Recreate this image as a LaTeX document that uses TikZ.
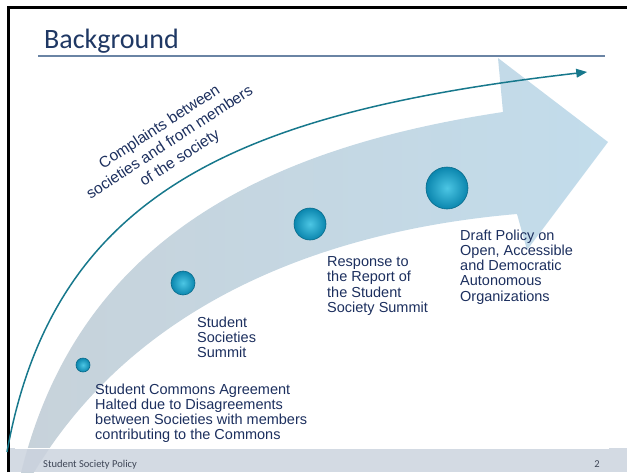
\documentclass[tikz,border=0pt]{standalone}
\usepackage{fontspec}
\setmainfont{Liberation Sans}
\newfontfamily\slidefont{Carlito}
\usetikzlibrary{arrows}

\definecolor{titleblue}{HTML}{1F3864}
\definecolor{textblue}{HTML}{1C2F5E}
\definecolor{ruleblue}{HTML}{6A84A4}
\definecolor{curveteal}{HTML}{17788C}
\definecolor{barblue}{HTML}{CBD3DE}
\definecolor{footgray}{HTML}{3E4656}
\definecolor{arrowgray}{HTML}{C7D2DA}
\definecolor{arrowblue}{HTML}{C2DCEB}
\definecolor{balllight}{HTML}{4CC6E4}
\definecolor{balldark}{HTML}{0B86AE}

\tikzset{
  milestone/.style={circle, inner sep=0pt, shading=radial, inner color=balllight,
    outer color=balldark, draw=balldark!80!black, line width=0.6pt},
  eventtext/.style={anchor=north west, inner sep=0pt, align=left, text=textblue,
    font=\fontsize{14.5}{15.2}\selectfont},
}

\begin{document}
\begin{tikzpicture}[x=1pt,y=-1pt]
    %one unit is one pixel of the slide, y runs downwards
  \useasboundingbox (0,0) rectangle (627,472);
    %the big shaded arrow behind the milestones
  \shade[left color=arrowgray, right color=arrowblue]
    (18,486) .. controls (70,250) and (250,150) .. (503,112) -- (498,58)
    -- (608,142) -- (527,250) -- (517,214)
    .. controls (330,230) and (130,300) .. (26,486) -- cycle;
    %footer bar and frame
  \fill[barblue, fill opacity=0.85] (8,448) rectangle (627,472);
  \draw[white, line width=1pt] (15,448.5) -- (609,448.5);
  \draw[line width=3pt] (8,472) -- (8,7) -- (627,7);
  \node[anchor=base west, inner sep=0pt, text=titleblue,
    font=\slidefont\fontsize{28}{30}\selectfont] (title) at (44,48) {Background};
  \coordinate (ruleL) at (38,56);
  \coordinate (ruleR) at (605,56);
  \draw[ruleblue, line width=2pt] (ruleL) -- (ruleR);
  \node[anchor=base west, inner sep=0pt, text=footgray,
    font=\slidefont\fontsize{10.5}{12}\selectfont] (footer) at (43,467) {Student Society Policy};
  \node[anchor=base, inner sep=0pt, text=footgray,
    font=\slidefont\fontsize{10.5}{12}\selectfont] (page) at (597,467) {2};
    %the rising curve
  \coordinate (cstart) at (7,452);
  \coordinate (cend) at (587,72);
  \draw[curveteal, line width=1.5pt, -triangle 45]
    (cstart) .. controls (55,185) and (250,110) .. (cend);
  \node[rotate=33, align=center, inner sep=0pt, text=textblue,
    font=\fontsize{15.5}{18.5}\selectfont]
    (complaints) at (170,143) {Complaints between\\societies and from members\\of the society};
    %milestones
  \node[milestone, minimum size=14pt] (c1) at (83,365) {};
  \node[milestone, minimum size=24pt] (c2) at (183,283) {};
  \node[milestone, minimum size=32pt] (c3) at (310,224) {};
  \node[milestone, minimum size=42pt] (c4) at (447,188) {};
  \node[eventtext] (t1) at (95,383.6) {Student Commons Agreement\\Halted due to Disagreements\\between Societies with members\\contributing to the Commons};
  \node[eventtext] (t2) at (197,316.6) {Student\\Societies\\Summit};
  \node[eventtext] (t3) at (327,256.6) {Response to\\the Report of\\the Student\\Society Summit};
  \node[eventtext] (t4) at (460,229.6) {Draft Policy on\\Open, Accessible\\and Democratic\\Autonomous\\Organizations};
\end{tikzpicture}
\end{document}
